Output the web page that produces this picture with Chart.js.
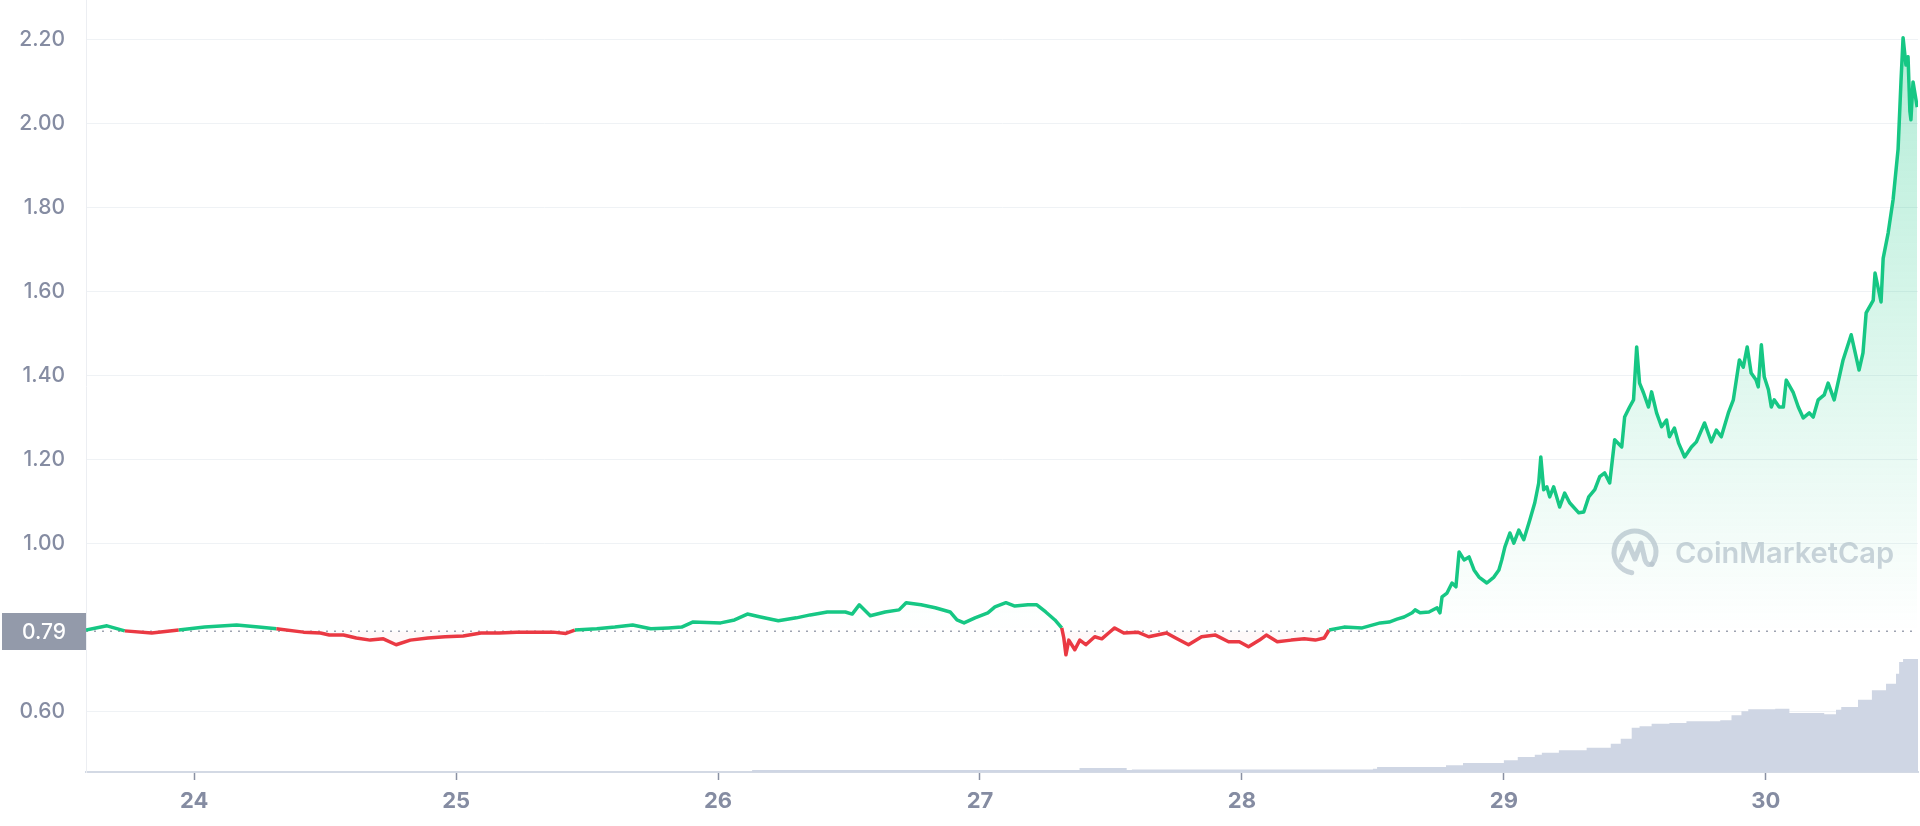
<!DOCTYPE html>
<html>
<head>
<meta charset="utf-8">
<script src="https://cdn.jsdelivr.net/npm/chart.js@4.4.1/dist/chart.umd.min.js"></script>
<style>
  html, body { margin: 0; padding: 0; background: #ffffff; overflow: hidden; }
  #wrap { width: 1920px; height: 826px; position: relative; }
  canvas { display: block; }
</style>
</head>
<body>
<div id="wrap"><canvas id="c" width="1920" height="826"></canvas></div>
<script>
// ---- data ----
const openPrice = 0.792;               // dotted reference line / boxed label "0.79"
const dayTicks = [24, 25, 26, 27, 28, 29, 30];
const dayTickLabels = ['24', '25', '26', '27', '28', '29', '30'];
const priceTicks = [0.60, 1.00, 1.20, 1.40, 1.60, 1.80, 2.00, 2.20];
const dayRange = [23.587, 30.581];
const priceRange = [0.457, 2.295];

const priceDays = [
  23.587, 23.667, 23.735, 23.838, 23.941, 24.040, 24.162, 24.246, 24.314, 24.417,
  24.482, 24.516, 24.570, 24.619, 24.672, 24.722, 24.771, 24.825, 24.893, 24.958,
  25.027, 25.095, 25.164, 25.232, 25.301, 25.370, 25.419, 25.453, 25.537, 25.606,
  25.674, 25.743, 25.811, 25.861, 25.903, 26.010, 26.063, 26.112, 26.162, 26.230,
  26.299, 26.352, 26.417, 26.486, 26.512, 26.539, 26.581, 26.638, 26.691, 26.718,
  26.775, 26.829, 26.886, 26.912, 26.939, 26.981, 27.030, 27.057, 27.099, 27.133,
  27.183, 27.217, 27.251, 27.286, 27.312, 27.320, 27.328, 27.339, 27.362, 27.381,
  27.404, 27.438, 27.465, 27.491, 27.514, 27.549, 27.602, 27.644, 27.712, 27.747,
  27.796, 27.846, 27.899, 27.949, 27.990, 28.025, 28.067, 28.093, 28.135, 28.188,
  28.238, 28.280, 28.314, 28.333, 28.390, 28.459, 28.528, 28.562, 28.592, 28.619,
  28.650, 28.661, 28.680, 28.714, 28.745, 28.756, 28.764, 28.783, 28.802, 28.817,
  28.829, 28.848, 28.867, 28.886, 28.905, 28.935, 28.962, 28.981, 28.992, 29.004,
  29.023, 29.038, 29.057, 29.076, 29.099, 29.118, 29.133, 29.141, 29.152, 29.164,
  29.175, 29.190, 29.213, 29.232, 29.251, 29.286, 29.305, 29.324, 29.347, 29.366,
  29.385, 29.404, 29.423, 29.450, 29.461, 29.480, 29.495, 29.507, 29.518, 29.533,
  29.552, 29.564, 29.583, 29.602, 29.621, 29.632, 29.651, 29.667, 29.690, 29.716,
  29.735, 29.766, 29.792, 29.811, 29.830, 29.857, 29.876, 29.899, 29.914, 29.929,
  29.944, 29.963, 29.971, 29.983, 29.994, 30.010, 30.021, 30.032, 30.051, 30.067,
  30.078, 30.105, 30.124, 30.143, 30.166, 30.181, 30.200, 30.223, 30.238, 30.261,
  30.295, 30.326, 30.356, 30.371, 30.383, 30.410, 30.417, 30.440, 30.448, 30.467,
  30.486, 30.505, 30.516, 30.524, 30.535, 30.543, 30.550, 30.554, 30.562, 30.578
];
const prices = [
  0.795, 0.805, 0.793, 0.788, 0.795, 0.802, 0.807, 0.802, 0.798, 0.790,
  0.788, 0.783, 0.783, 0.776, 0.771, 0.774, 0.760, 0.771, 0.776, 0.779,
  0.781, 0.788, 0.788, 0.790, 0.790, 0.790, 0.787, 0.795, 0.798, 0.802,
  0.807, 0.798, 0.800, 0.802, 0.814, 0.812, 0.819, 0.833, 0.826, 0.817,
  0.824, 0.831, 0.838, 0.838, 0.833, 0.855, 0.829, 0.838, 0.843, 0.860,
  0.855, 0.848, 0.838, 0.819, 0.812, 0.824, 0.836, 0.850, 0.860, 0.852,
  0.855, 0.855, 0.838, 0.819, 0.800, 0.776, 0.736, 0.771, 0.748, 0.771,
  0.760, 0.779, 0.774, 0.788, 0.800, 0.788, 0.790, 0.779, 0.788, 0.776,
  0.760, 0.779, 0.783, 0.767, 0.767, 0.755, 0.771, 0.783, 0.767, 0.771,
  0.774, 0.771, 0.776, 0.795, 0.802, 0.800, 0.812, 0.814, 0.821, 0.826,
  0.836, 0.843, 0.836, 0.838, 0.848, 0.836, 0.874, 0.883, 0.907, 0.898,
  0.981, 0.962, 0.969, 0.938, 0.921, 0.907, 0.921, 0.938, 0.962, 0.993,
  1.026, 1.002, 1.033, 1.010, 1.057, 1.098, 1.145, 1.207, 1.129, 1.136,
  1.112, 1.136, 1.088, 1.121, 1.098, 1.074, 1.076, 1.112, 1.129, 1.160,
  1.169, 1.145, 1.248, 1.231, 1.302, 1.326, 1.343, 1.469, 1.383, 1.360,
  1.326, 1.362, 1.312, 1.279, 1.295, 1.255, 1.276, 1.240, 1.207, 1.231,
  1.243, 1.288, 1.243, 1.271, 1.255, 1.312, 1.343, 1.438, 1.421, 1.469,
  1.407, 1.390, 1.374, 1.474, 1.398, 1.367, 1.326, 1.343, 1.326, 1.326,
  1.390, 1.360, 1.326, 1.300, 1.312, 1.302, 1.343, 1.355, 1.383, 1.343,
  1.438, 1.498, 1.414, 1.455, 1.550, 1.580, 1.645, 1.576, 1.680, 1.740,
  1.820, 1.940, 2.100, 2.205, 2.140, 2.160, 2.030, 2.010, 2.100, 2.040
];

// volume (arbitrary units, proportional to the grey area height)
const volumeDays = [
  23.587, 26.130, 26.140, 27.380, 27.400, 27.560, 27.580, 28.500, 28.516, 28.779,
  28.844, 29.000, 29.053, 29.118, 29.145, 29.210, 29.316, 29.408, 29.446, 29.488,
  29.518, 29.564, 29.632, 29.697, 29.750, 29.826, 29.869, 29.907, 29.933, 30.000,
  30.036, 30.090, 30.143, 30.223, 30.268, 30.288, 30.352, 30.405, 30.459, 30.497,
  30.509, 30.524, 30.562, 30.581
];
const volumes = [
  0, 0, 8, 8, 16, 16, 8, 10, 13, 20,
  27, 36, 47, 60, 69, 77, 87, 97, 113, 133,
  177, 183, 193, 196, 203, 203, 207, 227, 243, 251,
  251, 253, 236, 236, 231, 249, 260, 289, 327, 353,
  393, 440, 452, 452
];
const volumeAxisMax = 3088;

// ---- colours ----
const UP = '#16c784';
const DOWN = '#ea3943';
const TXT = '#858ca2';

const pricePoints = priceDays.map((d, i) => ({ x: d, y: prices[i] }));
const volumePoints = volumeDays.map((d, i) => ({ x: d, y: volumes[i] }));
const basePoints = [{ x: dayRange[0], y: openPrice }, { x: dayRange[1], y: openPrice }];

const watermark = {
  id: 'watermark',
  beforeDatasetsDraw(chart) {
    const { ctx, chartArea } = chart;
    const cx = chartArea.right - 283, cy = 552;
    ctx.save();
    ctx.strokeStyle = 'rgba(190,196,208,0.75)';
    ctx.fillStyle = 'rgba(190,196,208,0.75)';
    ctx.lineWidth = 5;
    ctx.lineCap = 'round';
    ctx.lineJoin = 'round';
    ctx.beginPath();
    ctx.arc(cx, cy, 21, 0.55 * Math.PI, 2.2 * Math.PI);
    ctx.stroke();
    ctx.beginPath();
    ctx.moveTo(cx - 14, cy + 8);
    ctx.lineTo(cx - 7, cy - 9);
    ctx.lineTo(cx, cy + 7);
    ctx.lineTo(cx + 6, cy - 9);
    ctx.lineTo(cx + 10, cy + 8);
    ctx.quadraticCurveTo(cx + 12, cy + 14, cx + 17, cy + 12);
    ctx.stroke();
    ctx.font = '600 29px Inter, "Noto Sans", sans-serif';
    ctx.textBaseline = 'alphabetic';
    ctx.textAlign = 'left';
    ctx.fillText('CoinMarketCap', cx + 40, cy + 11);
    ctx.restore();
  }
};

const priceBox = {
  id: 'priceBox',
  afterDraw(chart) {
    const { ctx, chartArea, scales } = chart;
    const y = scales.y.getPixelForValue(openPrice);
    ctx.save();
    ctx.fillStyle = '#939aaa';
    ctx.fillRect(2, Math.round(y - 18.5), chartArea.left - 2, 37);
    ctx.fillStyle = '#ffffff';
    ctx.font = '500 21px Inter, "Noto Sans", sans-serif';
    ctx.textAlign = 'center';
    ctx.textBaseline = 'middle';
    ctx.fillText(openPrice.toFixed(2), (chartArea.left + 2) / 2, y + 1);
    ctx.restore();
  }
};

new Chart(document.getElementById('c'), {
  type: 'line',
  data: {
    datasets: [
      {
        label: 'Price',
        data: pricePoints,
        yAxisID: 'y',
        order: 0,
        borderWidth: 3.5,
        pointRadius: 0,
        tension: 0,
        borderJoinStyle: 'round',
        borderColor: UP,
        segment: {
          borderColor: (c) => (c.p0.parsed.y < openPrice || c.p1.parsed.y < openPrice) ? DOWN : UP
        },
        backgroundColor: (c) => {
          const chart = c.chart;
          const a = chart.chartArea;
          if (!a) return 'rgba(22,199,132,0.1)';
          const yb = chart.scales.y.getPixelForValue(openPrice);
          const g = chart.ctx.createLinearGradient(0, a.top, 0, yb);
          g.addColorStop(0, 'rgba(22,199,132,0.34)');
          g.addColorStop(1, 'rgba(22,199,132,0.0)');
          return g;
        },
        fill: { target: { value: openPrice }, below: 'rgba(234,57,67,0.03)' }
      },
      {
        label: 'Open',
        data: basePoints,
        yAxisID: 'y',
        order: 1,
        borderColor: '#9ea4b2',
        borderWidth: 1.5,
        borderDash: [2, 6],
        pointRadius: 0,
        fill: false
      },
      {
        label: 'Volume',
        data: volumePoints,
        yAxisID: 'vol',
        order: 2,
        stepped: 'after',
        borderWidth: 0,
        borderColor: 'rgba(0,0,0,0)',
        backgroundColor: '#cfd6e4',
        pointRadius: 0,
        fill: 'origin'
      }
    ]
  },
  options: {
    responsive: false,
    devicePixelRatio: 1,
    animation: false,
    layout: { padding: { left: 0, right: 2, top: 0, bottom: 0 } },
    plugins: {
      legend: { display: false },
      tooltip: { enabled: false }
    },
    scales: {
      x: {
        type: 'linear',
        min: dayRange[0],
        max: dayRange[1],
        afterBuildTicks: (s) => { s.ticks = dayTicks.map(v => ({ value: v })); },
        afterFit: (s) => { s.height = 54; s.paddingLeft = 0; s.paddingRight = 0; },
        ticks: {
          autoSkip: false,
          maxRotation: 0,
          padding: 8,
          color: TXT,
          font: { family: 'Inter, "Noto Sans", sans-serif', size: 22, weight: '700' },
          callback: (v) => dayTickLabels[dayTicks.indexOf(v)]
        },
        grid: {
          display: true,
          drawOnChartArea: false,
          drawTicks: true,
          tickLength: 8,
          tickColor: '#8a91a3',
          tickWidth: 1.5
        },
        border: { display: true, color: '#d3d9e4', width: 2 }
      },
      y: {
        type: 'linear',
        position: 'left',
        min: priceRange[0],
        max: priceRange[1],
        afterBuildTicks: (s) => { s.ticks = priceTicks.map(v => ({ value: v })); },
        afterFit: (s) => { s.width = 86; s.paddingTop = 0; s.paddingBottom = 0; },
        ticks: {
          padding: 21,
          color: TXT,
          font: { family: 'Inter, "Noto Sans", sans-serif', size: 21, weight: '500' },
          callback: (v) => Number(v).toFixed(2)
        },
        grid: { color: '#eff2f5', lineWidth: 1, drawTicks: false },
        border: { display: true, color: '#eceef2', width: 1 }
      },
      vol: {
        type: 'linear',
        display: false,
        min: 0,
        max: volumeAxisMax
      }
    }
  },
  plugins: [watermark, priceBox]
});
</script>
</body>
</html>
